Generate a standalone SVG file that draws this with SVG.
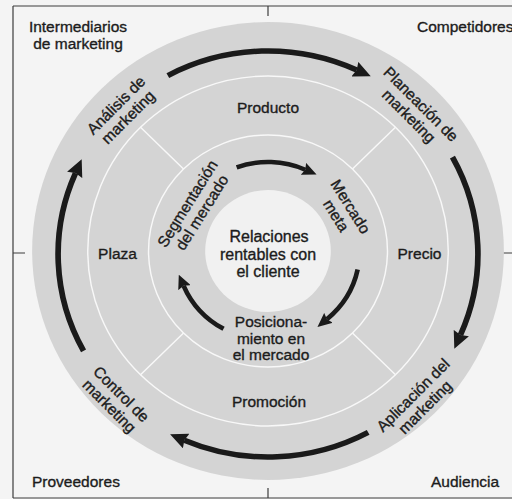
<svg xmlns="http://www.w3.org/2000/svg" width="512" height="499" viewBox="0 0 512 499">
  <defs>
    <marker id="headL" markerUnits="userSpaceOnUse" viewBox="0 0 17 16" markerWidth="17" markerHeight="16" refX="2" refY="8" orient="auto">
      <path d="M0,0 L17,8 L0,16 L2,8 Z" fill="#1a1a1a"/>
    </marker>
    <marker id="headS" markerUnits="userSpaceOnUse" viewBox="0 0 14 13" markerWidth="14" markerHeight="13" refX="2" refY="6.5" orient="auto">
      <path d="M0,0 L14,6.5 L0,13 L2,6.5 Z" fill="#1a1a1a"/>
    </marker>
  </defs>
  <style>
    text { font-family: "Liberation Sans", Arial, Helvetica, sans-serif; font-size: 15.5px; fill: #1c1c1c; stroke: #1c1c1c; stroke-width: 0.35px; }
    .c { text-anchor: middle; }
    .big { font-size: 16px; }
    .frame { stroke: #3c3c3c; stroke-width: 1.2; fill: none; }
    .sep { stroke: #f8f8f8; stroke-width: 1.4; fill: none; }
    .arcL { fill: none; stroke: #1a1a1a; stroke-width: 5.5; marker-end: url(#headL); }
    .arcS { fill: none; stroke: #1a1a1a; stroke-width: 4.5; marker-end: url(#headS); }
  </style>

  <!-- page -->
  <rect x="0" y="0" width="512" height="499" fill="#f4f4f4"/>

  <!-- frame with centre ticks -->
  <g id="frame">
    <path class="frame" d="M13,6 H512 M13,6 V498 M13,498 H512"/>
    <path class="frame" d="M268,6 V16 M268,488 V498 M13,253 H25 M500,253 H512"/>
  </g>

  <!-- concentric rings -->
  <g id="rings" transform="translate(268 251) scale(1.03 1)">
    <circle r="229" fill="#d4d4d4"/>
    <circle r="175" fill="#e7e7e7" class="sep"/>
    <circle r="116" fill="#cccccc" class="sep"/>
    <circle r="61" fill="#f1f1f1"/>
    <!-- dividers between the four Ps -->
    <path class="sep" d="M82,-82 L124,-124 M82,82 L124,124 M-82,82 L-124,124 M-82,-82 L-124,-124"/>
  </g>

  <!-- connectors -->
  <g id="connectors">
    <g transform="translate(268 254) scale(1.034 1)">
      <path class="arcL" d="M-96.87,-178.40 A203,203 0 0 1 85.79,-183.98"/>
      <path class="arcL" d="M178.40,-96.87 A203,203 0 0 1 186.17,80.94"/>
      <path class="arcL" d="M96.87,178.40 A203,203 0 0 1 -80.94,186.17"/>
      <path class="arcL" d="M-178.40,96.87 A203,203 0 0 1 -186.17,-80.94"/>
    </g>
    <g transform="translate(268 251) scale(1.03 1)">
      <path class="arcS" d="M-30.44,-83.63 A89,89 0 0 1 36.20,-81.30"/>
      <path class="arcS" d="M87.05,18.50 A89,89 0 0 1 57.21,68.18"/>
      <path class="arcS" d="M-43.15,77.84 A89,89 0 0 1 -81.92,34.77"/>
    </g>
  </g>

  <!-- environment corners -->
  <g id="intermediarios"><text class="c" x="78" y="32">Intermediarios</text><text class="c" x="78" y="49">de marketing</text></g>
  <g id="competidores"><text x="417" y="32">Competidores</text></g>
  <g id="proveedores"><text x="32" y="487">Proveedores</text></g>
  <g id="audiencia"><text x="431" y="487">Audiencia</text></g>

  <!-- marketing process -->
  <g id="analisis" transform="translate(122 111) rotate(-45)"><text class="c" y="-3">Análisis de</text><text class="c" y="14">marketing</text></g>
  <g id="planeacion" transform="translate(415 110) rotate(45)"><text class="c" y="-3">Planeación de</text><text class="c" y="14">marketing</text></g>
  <g id="aplicacion" transform="translate(419 401) rotate(-45)"><text class="c" y="-3">Aplicación del</text><text class="c" y="14">marketing</text></g>
  <g id="control" transform="translate(115.5 400) rotate(45)"><text class="c" y="-3">Control de</text><text class="c" y="14">marketing</text></g>

  <!-- marketing mix -->
  <g id="producto"><text class="c" x="268" y="113">Producto</text></g>
  <g id="plaza"><text class="c" x="117.5" y="259">Plaza</text></g>
  <g id="precio"><text class="c" x="419.5" y="259">Precio</text></g>
  <g id="promocion"><text class="c" x="269" y="407">Promoción</text></g>

  <!-- strategy -->
  <g id="segmentacion" transform="translate(194.5 208) rotate(-58)"><text class="c" y="-3">Segmentación</text><text class="c" y="14">del mercado</text></g>
  <g id="mercado-meta" transform="translate(343.5 211) rotate(58)"><text class="c" y="-3">Mercado</text><text class="c" y="14">meta</text></g>
  <g id="posicionamiento"><text class="c" x="271" y="327">Posiciona-</text><text class="c" x="271" y="343.5">miento en</text><text class="c" x="271" y="360">el mercado</text></g>

  <!-- centre -->
  <g id="relaciones"><text class="c big" x="269" y="242">Relaciones</text><text class="c big" x="268" y="260">rentables con</text><text class="c big" x="268" y="277">el cliente</text></g>
</svg>
